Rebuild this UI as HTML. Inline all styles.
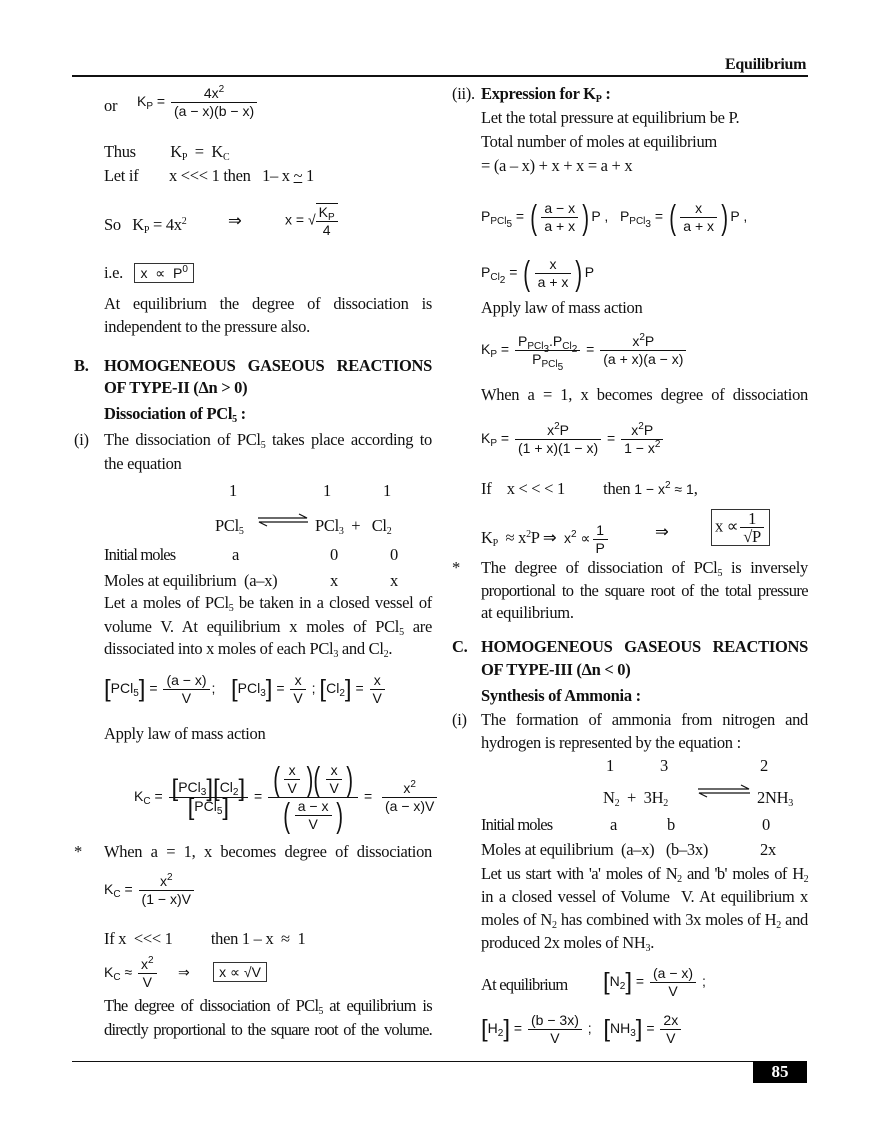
<!DOCTYPE html>
<html><head><meta charset="utf-8">
<style>
html,body{margin:0;padding:0;background:#fff;}
body{width:880px;height:1139px;position:relative;overflow:hidden;font-family:"Liberation Serif",serif;font-size:16.5px;color:#111;}
.a{position:absolute;white-space:nowrap;line-height:20px;letter-spacing:-0.3px;}
.j{text-align:justify;text-align-last:justify;white-space:normal;}
.b{font-weight:bold;}
.m{font-family:"Liberation Sans",sans-serif;font-size:14px;letter-spacing:0;}
.fr{display:inline-flex;flex-direction:column;vertical-align:middle;text-align:center;margin:0 2px;}
.fr>span{display:block;padding:0 3px;line-height:17px;}
.fr>span+span{border-top:1px solid #111;}
sub{font-size:10px;vertical-align:-3px;line-height:0;}
sup{font-size:10px;vertical-align:6px;line-height:0;}
.box{border:1px solid #333;padding:1px 5px;}
.p{font-size:24px;font-weight:100;vertical-align:middle;}
.q{font-size:34px;font-weight:100;vertical-align:middle;line-height:20px;transform:scaleX(0.6);display:inline-block;}
</style></head><body>
<div class="a b" style="left:725px;top:55px;font-size:16px;">Equilibrium</div>
<div style="position:absolute;left:72px;top:75px;width:736px;height:2px;background:#111;"></div>
<div style="position:absolute;left:72px;top:1061px;width:682px;height:1px;background:#111;"></div>
<div style="position:absolute;left:753px;top:1061px;width:54px;height:22px;background:#000;color:#fff;font-weight:bold;font-size:17px;text-align:center;line-height:22px;">85</div>

<!-- LEFT -->
<div class="a" style="left:104px;top:96px;">or</div>
<div class="a m" style="left:137px;top:85px;">K<sub>P</sub> = <span class="fr"><span>4x<sup>2</sup></span><span>(a − x)(b − x)</span></span></div>
<div class="a" style="left:104px;top:142px;">Thus &nbsp;&nbsp;&nbsp;&nbsp;&nbsp;&nbsp;&nbsp;&nbsp;K<sub>P</sub> &nbsp;= &nbsp;K<sub>C</sub></div>
<div class="a" style="left:104px;top:166px;">Let if &nbsp;&nbsp;&nbsp;&nbsp;&nbsp;&nbsp;&nbsp;x &lt;&lt;&lt; 1 then &nbsp;&nbsp;1– x <u>~</u> 1</div>
<div class="a" style="left:104px;top:215px;">So &nbsp;&nbsp;K<sub>P</sub> = 4x<sup>2</sup></div>
<div class="a" style="left:228px;top:211px;">⇒</div>
<div class="a m" style="left:285px;top:203px;">x = √<span class="fr" style="border-top:1px solid #111;margin-left:0"><span>K<sub>P</sub></span><span>4</span></span></div>
<div class="a" style="left:104px;top:263px;">i.e. &nbsp;&nbsp;<span class="box m">x &nbsp;∝ &nbsp;P<sup>0</sup></span></div>
<div class="a j" style="left:104px;top:294px;width:328px;">At equilibrium the degree of dissociation is</div>
<div class="a" style="left:104px;top:317px;">independent to the pressure also.</div>
<div class="a b" style="left:74px;top:356px;">B.</div>
<div class="a b j" style="left:104px;top:356px;width:328px;">HOMOGENEOUS GASEOUS REACTIONS</div>
<div class="a b" style="left:104px;top:378px;">OF TYPE-II (Δn &gt; 0)</div>
<div class="a b" style="left:104px;top:404px;">Dissociation of PCl<sub>5</sub> :</div>
<div class="a" style="left:74px;top:430px;">(i)</div>
<div class="a j" style="left:104px;top:430px;width:328px;">The dissociation of PCl<sub>5</sub> takes place according to</div>
<div class="a" style="left:104px;top:454px;">the equation</div>
<div class="a" style="left:229px;top:481px;">1</div><div class="a" style="left:323px;top:481px;">1</div><div class="a" style="left:383px;top:481px;">1</div>
<div class="a" style="left:215px;top:516px;">PCl<sub>5</sub></div>
<svg style="position:absolute;left:257px;top:513px" width="52" height="14"><path d="M1 5H50L42 1M51 9H2L10 13" stroke="#111" fill="none" stroke-width="1.2"/></svg>
<div class="a" style="left:315px;top:516px;">PCl<sub>3</sub> &nbsp;+ &nbsp;&nbsp;Cl<sub>2</sub></div>
<div class="a" style="left:104px;top:545px;letter-spacing:-0.9px;">Initial moles</div>
<div class="a" style="left:232px;top:545px;">a</div><div class="a" style="left:330px;top:545px;">0</div><div class="a" style="left:390px;top:545px;">0</div>
<div class="a" style="left:104px;top:571px;">Moles at equilibrium &nbsp;(a–x)</div>
<div class="a" style="left:330px;top:571px;">x</div><div class="a" style="left:390px;top:571px;">x</div>
<div class="a j" style="left:104px;top:593px;width:328px;">Let a moles of PCl<sub>5</sub> be taken in a closed vessel of</div>
<div class="a j" style="left:104px;top:617px;width:328px;">volume V. At equilibrium x moles of PCl<sub>5</sub> are</div>
<div class="a" style="left:104px;top:639px;">dissociated into x moles of each PCl<sub>3</sub> and Cl<sub>2</sub>.</div>
<div class="a m" style="left:104px;top:672px;"><span class="p">[</span>PCl<sub>5</sub><span class="p">]</span> = <span class="fr"><span>(a − x)</span><span>V</span></span>; &nbsp;&nbsp;&nbsp;<span class="p">[</span>PCl<sub>3</sub><span class="p">]</span> = <span class="fr"><span>x</span><span>V</span></span> ; <span class="p">[</span>Cl<sub>2</sub><span class="p">]</span> = <span class="fr"><span>x</span><span>V</span></span></div>
<div class="a" style="left:104px;top:724px;">Apply law of mass action</div>
<div class="a m" style="left:134px;top:762px;">K<sub>C</sub> = <span class="fr"><span><span class="p">[</span>PCl<sub>3</sub><span class="p">][</span>Cl<sub>2</sub><span class="p">]</span></span><span><span class="p">[</span>PCl<sub>5</sub><span class="p">]</span></span></span> = <span class="fr"><span><span class="q">(</span><span class="fr"><span>x</span><span>V</span></span><span class="q">)(</span><span class="fr"><span>x</span><span>V</span></span><span class="q">)</span></span><span><span class="q">(</span><span class="fr"><span>a − x</span><span>V</span></span><span class="q">)</span></span></span> = &nbsp;<span class="fr"><span>x<sup>2</sup></span><span>(a − x)V</span></span></div>
<div class="a" style="left:74px;top:842px;">*</div>
<div class="a j" style="left:104px;top:842px;width:328px;">When a = 1, x becomes degree of dissociation</div>
<div class="a m" style="left:104px;top:873px;">K<sub>C</sub> = <span class="fr"><span>x<sup>2</sup></span><span>(1 − x)V</span></span></div>
<div class="a" style="left:104px;top:929px;">If x &nbsp;&lt;&lt;&lt; 1 &nbsp;&nbsp;&nbsp;&nbsp;&nbsp;&nbsp;&nbsp;&nbsp;&nbsp;then 1 – x &nbsp;≈ &nbsp;1</div>
<div class="a m" style="left:104px;top:956px;">K<sub>C</sub> ≈ <span class="fr"><span>x<sup>2</sup></span><span>V</span></span> &nbsp;&nbsp;&nbsp;&nbsp;⇒ &nbsp;&nbsp;&nbsp;&nbsp;&nbsp;<span class="box">x ∝ √V</span></div>
<div class="a j" style="left:104px;top:996px;width:328px;letter-spacing:-0.7px;">The degree of dissociation of PCl<sub>5</sub> at equilibrium is</div>
<div class="a j" style="left:104px;top:1020px;width:328px;letter-spacing:-0.8px;">directly proportional to the square root of the volume.</div>

<!-- RIGHT -->
<div class="a" style="left:452px;top:84px;">(ii).</div>
<div class="a b" style="left:481px;top:84px;">Expression for K<sub>P</sub> :</div>
<div class="a" style="left:481px;top:108px;">Let the total pressure at equilibrium be P.</div>
<div class="a" style="left:481px;top:132px;">Total number of moles at equilibrium</div>
<div class="a" style="left:481px;top:156px;">= (a – x) + x + x = a + x</div>
<div class="a m" style="left:481px;top:200px;">P<sub>PCl<sub>5</sub></sub> = <span class="q">(</span><span class="fr"><span>a − x</span><span>a + x</span></span><span class="q">)</span>P , &nbsp;&nbsp;P<sub>PCl<sub>3</sub></sub> = <span class="q">(</span><span class="fr"><span>x</span><span>a + x</span></span><span class="q">)</span>P ,</div>
<div class="a m" style="left:481px;top:256px;">P<sub>Cl<sub>2</sub></sub> = <span class="q">(</span><span class="fr"><span>x</span><span>a + x</span></span><span class="q">)</span>P</div>
<div class="a" style="left:481px;top:298px;">Apply law of mass action</div>
<div class="a m" style="left:481px;top:333px;">K<sub>P</sub> = <span class="fr"><span>P<sub>PCl<sub>3</sub></sub>.P<sub>Cl<sub>2</sub></sub></span><span>P<sub>PCl<sub>5</sub></sub></span></span> = <span class="fr"><span>x<sup>2</sup>P</span><span>(a + x)(a − x)</span></span></div>
<div class="a j" style="left:481px;top:385px;width:327px;">When a = 1, x becomes degree of dissociation</div>
<div class="a m" style="left:481px;top:422px;">K<sub>P</sub> = <span class="fr"><span>x<sup>2</sup>P</span><span>(1 + x)(1 − x)</span></span> = <span class="fr"><span>x<sup>2</sup>P</span><span>1 − x<sup>2</sup></span></span></div>
<div class="a" style="left:481px;top:479px;">If &nbsp;&nbsp;&nbsp;x &lt; &lt; &lt; 1 &nbsp;&nbsp;&nbsp;&nbsp;&nbsp;&nbsp;&nbsp;&nbsp;&nbsp;then <span class="m">1 − x<sup>2</sup> ≈ 1</span>,</div>
<div class="a" style="left:481px;top:522px;">K<sub>P</sub> &nbsp;≈ x<sup>2</sup>P ⇒ &nbsp;<span class="m">x<sup>2</sup> ∝<span class="fr"><span>1</span><span>P</span></span></span></div>
<div class="a" style="left:655px;top:522px;">⇒</div>
<div class="a" style="left:711px;top:509px;"><span class="box" style="display:inline-block;padding:0 3px">x ∝<span class="fr"><span>1</span><span>√P</span></span></span></div>
<div class="a" style="left:452px;top:558px;">*</div>
<div class="a j" style="left:481px;top:558px;width:327px;">The degree of dissociation of PCl<sub>5</sub> is inversely</div>
<div class="a j" style="left:481px;top:581px;width:327px;letter-spacing:-0.6px;">proportional to the square root of the total pressure</div>
<div class="a" style="left:481px;top:603px;">at equilibrium.</div>
<div class="a b" style="left:452px;top:637px;">C.</div>
<div class="a b j" style="left:481px;top:637px;width:327px;">HOMOGENEOUS GASEOUS REACTIONS</div>
<div class="a b" style="left:481px;top:660px;">OF TYPE-III (Δn &lt; 0)</div>
<div class="a b" style="left:481px;top:686px;">Synthesis of Ammonia :</div>
<div class="a" style="left:452px;top:710px;">(i)</div>
<div class="a j" style="left:481px;top:710px;width:327px;">The formation of ammonia from nitrogen and</div>
<div class="a" style="left:481px;top:733px;">hydrogen is represented by the equation :</div>
<div class="a" style="left:606px;top:756px;">1</div><div class="a" style="left:660px;top:756px;">3</div><div class="a" style="left:760px;top:756px;">2</div>
<div class="a" style="left:603px;top:788px;">N<sub>2</sub> &nbsp;+ &nbsp;3H<sub>2</sub></div>
<svg style="position:absolute;left:697px;top:784px" width="54" height="14"><path d="M1 5H52L44 1M53 9H2L10 13" stroke="#111" fill="none" stroke-width="1.2"/></svg>
<div class="a" style="left:757px;top:788px;">2NH<sub>3</sub></div>
<div class="a" style="left:481px;top:815px;letter-spacing:-0.9px;">Initial moles</div>
<div class="a" style="left:610px;top:815px;">a</div><div class="a" style="left:667px;top:815px;">b</div><div class="a" style="left:762px;top:815px;">0</div>
<div class="a" style="left:481px;top:840px;">Moles at equilibrium &nbsp;(a–x) &nbsp;&nbsp;(b–3x)</div>
<div class="a" style="left:760px;top:840px;">2x</div>
<div class="a j" style="left:481px;top:864px;width:327px;letter-spacing:-0.6px;">Let us start with 'a' moles of N<sub>2</sub> and 'b' moles of H<sub>2</sub></div>
<div class="a j" style="left:481px;top:887px;width:327px;">in a closed vessel of Volume &nbsp;V. At equilibrium x</div>
<div class="a j" style="left:481px;top:910px;width:327px;">moles of N<sub>2</sub> has combined with 3x moles of H<sub>2</sub> and</div>
<div class="a" style="left:481px;top:933px;">produced 2x moles of NH<sub>3</sub>.</div>
<div class="a" style="left:481px;top:975px;letter-spacing:-0.8px;">At equilibrium</div>
<div class="a m" style="left:603px;top:965px;"><span class="p">[</span>N<sub>2</sub><span class="p">]</span> = <span class="fr"><span>(a − x)</span><span>V</span></span> ;</div>
<div class="a m" style="left:481px;top:1012px;"><span class="p">[</span>H<sub>2</sub><span class="p">]</span> = <span class="fr"><span>(b − 3x)</span><span>V</span></span> ; &nbsp;&nbsp;<span class="p">[</span>NH<sub>3</sub><span class="p">]</span> = <span class="fr"><span>2x</span><span>V</span></span></div>
</body></html>
